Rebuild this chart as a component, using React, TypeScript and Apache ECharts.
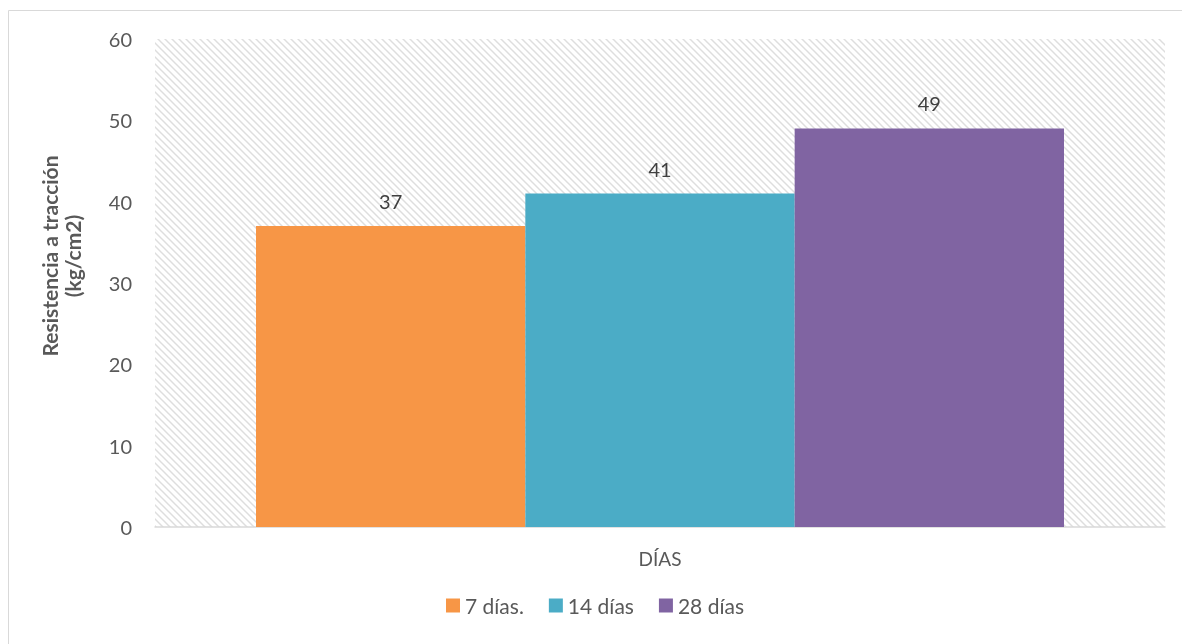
import React, { useEffect, useRef } from "react";
import * as echarts from "echarts";

const categories = ["DÍAS"];
const seriesNames = ["7 días.", "14 días", "28 días"];
const seriesValues = [[37], [41], [49]];
const seriesColors = ["#F79646", "#4BACC6", "#8064A2"];
const yTicks = { min: 0, max: 60, interval: 10 };
const yAxisTitle = "Resistencia a tracción\n(kg/cm2)";

const hatchSvg =
  '<svg xmlns="http://www.w3.org/2000/svg" width="7" height="7">' +
  '<path d="M-1,-1 L8,8 M-1,6 L1,8 M6,-1 L8,1" stroke="#dedede" stroke-width="1.5"/></svg>';
const hatchUrl = "data:image/svg+xml;charset=utf-8," + encodeURIComponent(hatchSvg);

export default function App() {
  const ref = useRef<HTMLDivElement>(null);
  useEffect(() => {
    if (!ref.current) return;
    const chart = echarts.init(ref.current, null, { renderer: "svg" });
    const font = "Lato, 'Open Sans', sans-serif";
    chart.setOption({
      animation: false,
      textStyle: { fontFamily: font },
      graphic: [
        {
          type: "line",
          shape: { x1: 0.5, y1: 2.5, x2: 1174, y2: 2.5 },
          style: { stroke: "#d9d9d9", lineWidth: 1 },
          silent: true,
        },
        {
          type: "line",
          shape: { x1: 0.5, y1: 2.5, x2: 0.5, y2: 636 },
          style: { stroke: "#d9d9d9", lineWidth: 1 },
          silent: true,
        },
        {
          type: "text",
          x: 53,
          y: 248,
          rotation: Math.PI / 2,
          silent: true,
          style: {
            text: yAxisTitle,
            font: `bold 21px ${font}`,
            fill: "#595959",
            align: "center",
            verticalAlign: "middle",
            lineHeight: 23,
          },
        },
      ],
      grid: {
        left: 147,
        right: 17,
        top: 31,
        bottom: 117,
        show: true,
        borderWidth: 0,
        backgroundColor: { image: hatchUrl, repeat: "repeat" } as any,
      },
      legend: {
        data: seriesNames,
        bottom: 23,
        left: "center",
        itemWidth: 14,
        itemHeight: 14,
        itemGap: 25,
        icon: "rect",
        textStyle: { fontSize: 21, color: "#595959", fontFamily: font },
      },
      xAxis: {
        type: "category",
        data: categories,
        axisLine: { lineStyle: { color: "#d9d9d9", width: 1.5 } },
        axisTick: { show: false },
        axisLabel: { fontSize: 19, color: "#595959", margin: 22 },
      },
      yAxis: {
        type: "value",
        min: yTicks.min,
        max: yTicks.max,
        interval: yTicks.interval,
        splitLine: { show: false },
        axisLine: { show: false },
        axisTick: { show: false },
        axisLabel: { fontSize: 20, color: "#595959", margin: 23 },
      },
      series: seriesNames.map((n, i) => ({
        name: n,
        type: "bar",
        data: seriesValues[i],
        barGap: "0%",
        barCategoryGap: "20%",
        itemStyle: { color: seriesColors[i] },
        label: {
          show: true,
          position: "top",
          distance: 15,
          fontSize: 20,
          color: "#404040",
        },
      })),
    });
    return () => chart.dispose();
  }, []);
  return (
    <div
      ref={ref}
      style={{ position: "fixed", left: 8, top: 8, width: 1174, height: 636, overflow: "hidden" }}
    />
  );
}
